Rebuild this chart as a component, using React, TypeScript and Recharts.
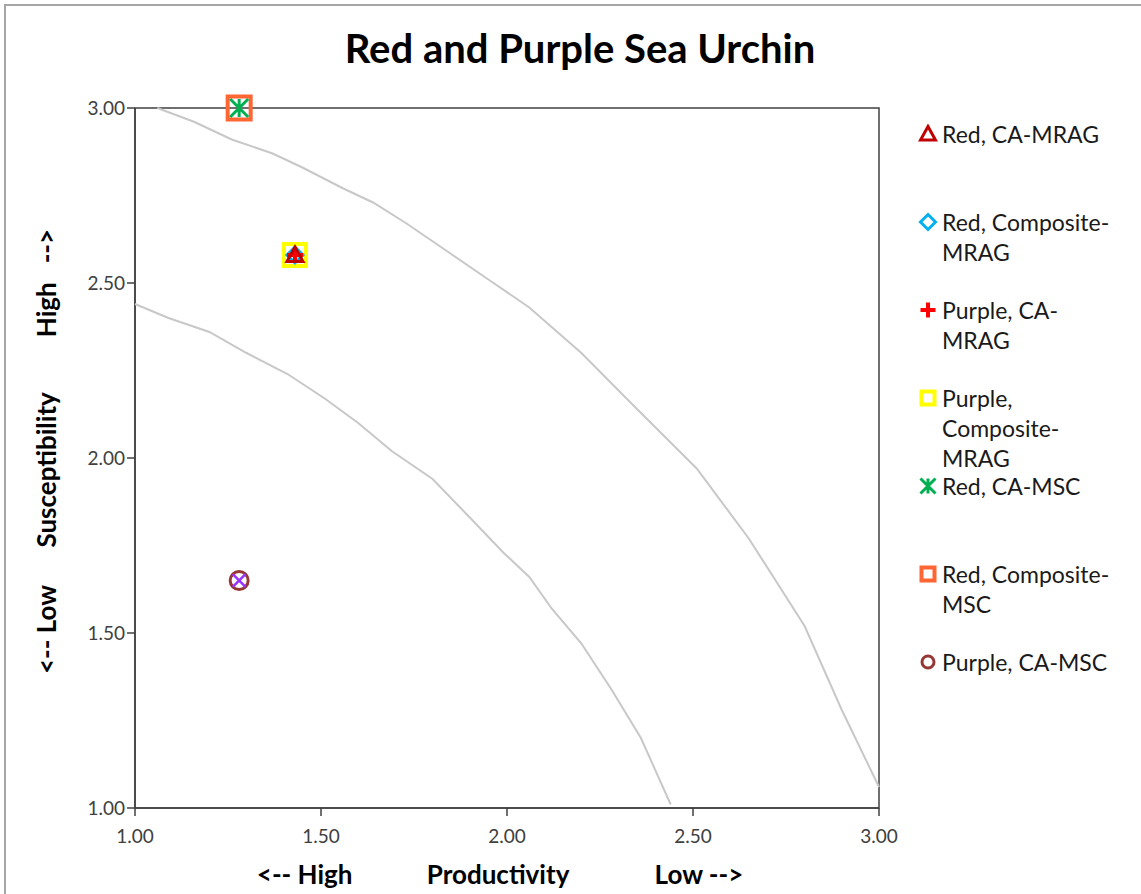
import React from "react";
import {
  ScatterChart,
  Scatter,
  XAxis,
  YAxis,
  Legend,
  ReferenceArea,
  Label,
} from "recharts";

// points
const seriesNames = [
  "Red, CA-MRAG",
  "Red, Composite-MRAG",
  "Purple, CA-MRAG",
  "Purple, Composite-MRAG",
  "Red, CA-MSC",
  "Red, Composite-MSC",
  "Purple, CA-MSC",
  "Purple, Composite-MSC",
];
const productivity = [1.43, 1.43, 1.43, 1.43, 1.28, 1.28, 1.28, 1.28];
const susceptibility = [2.58, 2.58, 2.58, 2.58, 3.0, 3.0, 1.65, 1.65];

// grey risk curves
const outerCurveX = [1.06, 1.16, 1.26, 1.37, 1.45, 1.56, 1.64, 1.73, 1.84, 1.95, 2.06, 2.2, 2.34, 2.51, 2.65, 2.8, 2.9, 3.0];
const outerCurveY = [3.0, 2.96, 2.91, 2.87, 2.83, 2.77, 2.73, 2.67, 2.59, 2.51, 2.43, 2.3, 2.15, 1.97, 1.77, 1.52, 1.28, 1.06];
const innerCurveX = [1.0, 1.09, 1.2, 1.3, 1.41, 1.51, 1.6, 1.69, 1.8, 1.9, 1.99, 2.06, 2.12, 2.2, 2.28, 2.36, 2.44];
const innerCurveY = [2.44, 2.4, 2.36, 2.3, 2.24, 2.17, 2.1, 2.02, 1.94, 1.83, 1.73, 1.66, 1.57, 1.47, 1.34, 1.2, 1.01];

const xTicks = [1, 1.5, 2, 2.5, 3];
const yTicks = [1, 1.5, 2, 2.5, 3];

const markerStyles = [
  { kind: "triangle", color: "#C00000", size: 16 },
  { kind: "diamond", color: "#00B0F0", size: 16 },
  { kind: "plus", color: "#FF0000", size: 16 },
  { kind: "square", color: "#FFFF00", size: 26 },
  { kind: "asterisk", color: "#00B050", size: 18 },
  { kind: "square", color: "#FF6633", size: 27 },
  { kind: "circle", color: "#953735", size: 21 },
  { kind: "x", color: "#9933FF", size: 17 },
];

const FONT = "Lato, 'Open Sans', sans-serif";

function Marker({ kind, color, cx, cy, size }: any) {
  const h = size / 2;
  const sw = 3;
  if (kind === "triangle")
    return (
      <polygon
        points={`${cx},${cy - h} ${cx + h},${cy + h * 0.8} ${cx - h},${cy + h * 0.8}`}
        fill="none" stroke={color} strokeWidth={sw} strokeLinejoin="miter"
      />
    );
  if (kind === "diamond")
    return (
      <polygon
        points={`${cx},${cy - h} ${cx + h},${cy} ${cx},${cy + h} ${cx - h},${cy}`}
        fill="none" stroke={color} strokeWidth={sw}
      />
    );
  if (kind === "plus")
    return (
      <path d={`M${cx - h},${cy}H${cx + h}M${cx},${cy - h}V${cy + h}`} stroke={color} strokeWidth={sw + 1} />
    );
  if (kind === "square")
    return (
      <rect x={cx - h + 2} y={cy - h + 2} width={size - 4} height={size - 4} fill="none" stroke={color} strokeWidth={sw + 1} />
    );
  if (kind === "asterisk")
    return (
      <path
        d={`M${cx - h},${cy - h}L${cx + h},${cy + h}M${cx + h},${cy - h}L${cx - h},${cy + h}M${cx},${cy - h}V${cy + h}`}
        stroke={color} strokeWidth={sw}
      />
    );
  if (kind === "circle")
    return <circle cx={cx} cy={cy} r={h - 1.5} fill="none" stroke={color} strokeWidth={sw} />;
  if (kind === "x") {
    const k = h * 0.75;
    return (
      <path d={`M${cx - k},${cy - k}L${cx + k},${cy + k}M${cx + k},${cy - k}L${cx - k},${cy + k}`} stroke={color} strokeWidth={2.5} />
    );
  }
  return null;
}

function LegendBox() {
  // only the first seven series show in the legend
  return (
    <div style={{ fontFamily: FONT, fontSize: 23, color: "#1a1a1a" }}>
      {seriesNames.slice(0, 7).map((name, i) => (
        <div key={name} style={{ display: "flex", alignItems: "flex-start", height: 88 }}>
          <svg width={20} height={20} style={{ marginRight: 4, marginTop: 6, flex: "none" }}>
            <Marker {...markerStyles[i]} size={i === 3 || i === 5 ? 17 : 15} cx={10} cy={10} />
          </svg>
          <div style={{ width: 175, lineHeight: "30px", marginTop: 1 }}>{name}</div>
        </div>
      ))}
    </div>
  );
}

function XLabel({ viewBox }: any) {
  const { x, y, width } = viewBox;
  const ty = y + 76;
  const st = { fontFamily: FONT, fontSize: 26, fontWeight: 700, fill: "#000" } as any;
  return (
    <g>
      <text x={x + width * 0.228} y={ty} textAnchor="middle" style={st}>{"<-- High"}</text>
      <text x={x + width * 0.488} y={ty} textAnchor="middle" style={st}>Productivity</text>
      <text x={x + width * 0.758} y={ty} textAnchor="middle" style={st}>{"Low -->"}</text>
    </g>
  );
}

function YLabel({ viewBox }: any) {
  const { y, height } = viewBox;
  const tx = 56;
  const st = { fontFamily: FONT, fontSize: 26, fontWeight: 700, fill: "#000", whiteSpace: "pre" } as any;
  const item = (cy: number, s: string) => (
    <text x={tx} y={cy} textAnchor="middle" transform={`rotate(-90 ${tx} ${cy})`} style={st}>{s}</text>
  );
  return (
    <g>
      {item(y + height * 0.745, "<-- Low")}
      {item(y + height * 0.517, "Susceptibility")}
      {item(y + height * 0.25, "High   -->")}
    </g>
  );
}

export default function App() {
  const points = seriesNames.map((name, i) => ({
    name,
    data: [{ x: productivity[i], y: susceptibility[i] }],
  }));
  const outer = outerCurveX.map((x, i) => ({ x, y: outerCurveY[i] }));
  const inner = innerCurveX.map((x, i) => ({ x, y: innerCurveY[i] }));
  const tickStyle = { fontFamily: FONT, fontSize: 19, fill: "#404040" };

  return (
    <div style={{ position: "relative", width: 1141, height: 894, background: "#fff" }}>
      <style>{`body{margin:0}`}</style>
      <div
        style={{
          position: "absolute", left: 4, top: 4, width: 1150, height: 900,
          border: "2px solid #a6a6a6", boxSizing: "border-box",
        }}
      />
      <div
        style={{
          position: "absolute", top: 24, left: 0, width: 1160, textAlign: "center",
          fontFamily: FONT, fontWeight: 700, fontSize: 40, color: "#000",
        }}
      >
        Red and Purple Sea Urchin
      </div>
      <ScatterChart
        width={1141}
        height={894}
        margin={{ top: 108, right: 262, bottom: 56, left: 75 }}
        style={{ position: "absolute", left: 0, top: 0 }}
      >
        <XAxis
          type="number" dataKey="x" domain={[1, 3]} ticks={xTicks}
          tickFormatter={(v: number) => v.toFixed(2)}
          height={30} tick={tickStyle} tickSize={8} tickMargin={14}
          axisLine={{ stroke: "#404040", strokeWidth: 1.5 }}
          tickLine={{ stroke: "#404040", strokeWidth: 1.5 }}
        >
          <Label content={<XLabel />} />
        </XAxis>
        <YAxis
          type="number" dataKey="y" domain={[1, 3]} ticks={yTicks}
          tickFormatter={(v: number) => v.toFixed(2)}
          width={60} tick={tickStyle} tickSize={8}
          axisLine={{ stroke: "#404040", strokeWidth: 1.5 }}
          tickLine={{ stroke: "#404040", strokeWidth: 1.5 }}
        >
          <Label content={<YLabel />} />
        </YAxis>
        <ReferenceArea x1={1} x2={3} y1={1} y2={3} fill="none" stroke="#404040" strokeWidth={1.5} />
        <Scatter
          data={outer} line={{ stroke: "#c8c8c8", strokeWidth: 2 }} lineType="joint"
          shape={() => <g />} legendType="none" isAnimationActive={false}
        />
        <Scatter
          data={inner} line={{ stroke: "#c8c8c8", strokeWidth: 2 }} lineType="joint"
          shape={() => <g />} legendType="none" isAnimationActive={false}
        />
        {[3, 1, 2, 0, 5, 4, 6, 7].map((i) => (
          <Scatter
            key={points[i].name}
            name={points[i].name}
            data={points[i].data}
            isAnimationActive={false}
            shape={(p: any) => <Marker {...markerStyles[i]} cx={p.cx} cy={p.cy} />}
          />
        ))}
        <Legend
          layout="vertical" align="center" verticalAlign="middle"
          wrapperStyle={{ left: 918, top: 118, width: 215 }}
          content={() => <LegendBox />}
        />
      </ScatterChart>
    </div>
  );
}
